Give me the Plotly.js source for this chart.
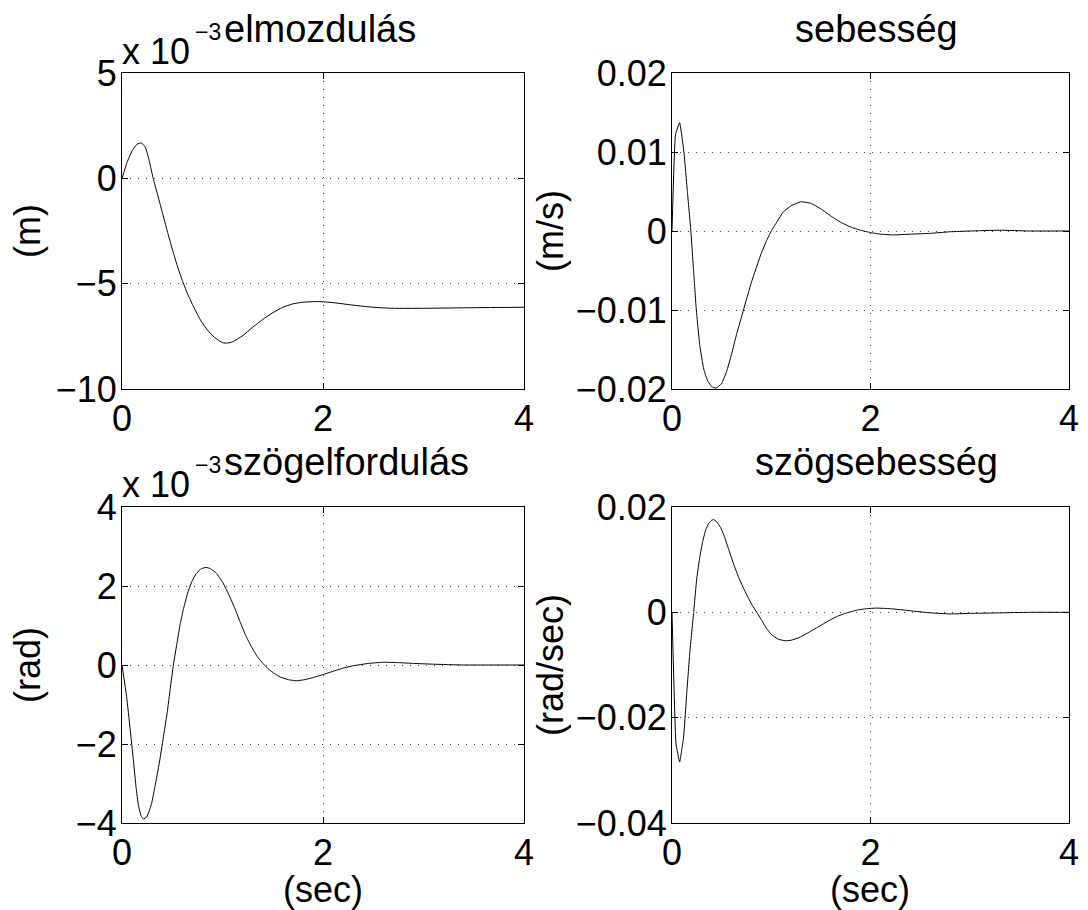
<!DOCTYPE html>
<html>
<head>
<meta charset="utf-8">
<script src="https://cdn.plot.ly/plotly-3.0.1.min.js"></script>
<style>html,body{margin:0;padding:0;background:#fff;}#chart{width:1088px;height:910px;}</style>
</head>
<body>
<div id="chart"></div>
<script>
// ---- data ----
// elmozdulás, values in units of 1e-3 m
const tElmozdulas = [0,0.05,0.1,0.15,0.19,0.23,0.27,0.31,0.35,0.4,0.45,0.5,0.55,0.6,0.65,0.7,0.78,0.85,0.92,1.0,1.05,1.1,1.2,1.3,1.4,1.5,1.6,1.7,1.8,1.95,2.1,2.3,2.5,2.7,3.0,3.5,4.0];
const elmozdulas  = [0,0.75,1.3,1.62,1.68,1.5,0.85,0.0,-0.7,-1.6,-2.5,-3.35,-4.15,-4.85,-5.45,-5.98,-6.72,-7.2,-7.55,-7.8,-7.82,-7.76,-7.47,-7.07,-6.7,-6.38,-6.12,-5.96,-5.88,-5.85,-5.9,-6.02,-6.12,-6.17,-6.17,-6.14,-6.12];

// sebesség, m/s
const tSebesseg = [0,0.035,0.077,0.12,0.155,0.19,0.22,0.245,0.28,0.32,0.36,0.40,0.445,0.5,0.55,0.6,0.65,0.72,0.8,0.9,0.95,1.0,1.06,1.12,1.2,1.3,1.4,1.5,1.6,1.7,1.8,1.9,2.0,2.1,2.23,2.4,2.6,2.8,3.0,3.3,3.6,4.0];
const sebesseg  = [0,0.0122,0.0137,0.0100,0.0050,0.0,-0.0055,-0.0100,-0.0145,-0.0175,-0.0190,-0.0197,-0.0199,-0.0193,-0.0178,-0.0156,-0.0131,-0.0100,-0.0065,-0.0028,-0.0013,0.0,0.0012,0.0024,0.0032,0.0037,0.0035,0.0028,0.0019,0.0011,0.0005,0.0001,-0.0002,-0.0004,-0.0005,-0.0004,-0.0003,-0.0001,0.0,0.0001,0.0,0.0];

// szögelfordulás, values in units of 1e-3 rad
const tSzogelfordulas = [0,0.046,0.08,0.113,0.14,0.163,0.19,0.212,0.245,0.27,0.295,0.33,0.37,0.41,0.45,0.48,0.511,0.55,0.58,0.61,0.65,0.693,0.74,0.79,0.836,0.88,0.94,1.0,1.06,1.12,1.174,1.23,1.29,1.35,1.406,1.46,1.52,1.572,1.65,1.738,1.82,1.9,2.0,2.1,2.2,2.3,2.45,2.6,2.75,2.9,3.1,3.4,4.0];
const szogelfordulas  = [0,-0.8,-1.6,-2.4,-3.1,-3.55,-3.82,-3.9,-3.85,-3.7,-3.5,-3.05,-2.5,-1.85,-1.2,-0.6,0.0,0.6,1.05,1.4,1.8,2.1,2.32,2.44,2.47,2.44,2.32,2.1,1.8,1.45,1.1,0.75,0.45,0.2,0.03,-0.11,-0.22,-0.30,-0.37,-0.40,-0.37,-0.32,-0.24,-0.16,-0.08,-0.02,0.04,0.07,0.06,0.04,0.02,0.0,0.0];

// szögsebesség, rad/sec
const tSzogsebesseg = [0,0.04,0.077,0.117,0.15,0.18,0.218,0.25,0.28,0.31,0.34,0.37,0.40,0.42,0.45,0.49,0.53,0.57,0.62,0.67,0.72,0.77,0.81,0.855,0.9,0.95,1.0,1.07,1.14,1.2,1.28,1.36,1.46,1.56,1.66,1.76,1.86,1.96,2.06,2.2,2.4,2.6,2.8,3.0,3.3,3.6,4.0];
const szogsebesseg  = [0,-0.0249,-0.0284,-0.0237,-0.0150,-0.0075,0.0,0.0065,0.0105,0.0135,0.0157,0.0169,0.0175,0.0176,0.0172,0.0161,0.0143,0.0120,0.0092,0.0067,0.0046,0.0027,0.0013,0.0,-0.0014,-0.0030,-0.0042,-0.0051,-0.0054,-0.0053,-0.0048,-0.0040,-0.0029,-0.0018,-0.0008,-0.0001,0.0004,0.0007,0.0008,0.0007,0.0003,-0.0001,-0.0003,-0.0002,-0.0001,0.0,0.0];

const panelTitles = ['elmozdulás','sebesség','szögelfordulás','szögsebesség'];
const yUnits = ['(m)','(m/s)','(rad)','(rad/sec)'];
const xUnit = '(sec)';
const exponentBase = 'x 10';
const exponentPower = '−3';
const xTicks = [0,2,4];
const yTicks1 = [-10,-5,0,5];
const yTicks2 = [-0.02,-0.01,0,0.01,0.02];
const yTicks3 = [-4,-2,0,2,4];
const yTicks4 = [-0.04,-0.02,0,0.02];

// ---- layout helpers ----
const W = 1088, H = 910;
const FONT = 'Liberation Sans, Arial, Helvetica, sans-serif';
const px = v => v / W;
const py = v => 1 - v / H;

const line = {color:'#000', width:1};
const traces = [
  {x:tElmozdulas, y:elmozdulas, xaxis:'x', yaxis:'y', mode:'lines', line:Object.assign({shape:'spline', smoothing:0.5}, line)},
  {x:tSebesseg, y:sebesseg, xaxis:'x2', yaxis:'y2', mode:'lines', line:Object.assign({shape:'spline', smoothing:0.3}, line)},
  {x:tSzogelfordulas, y:szogelfordulas, xaxis:'x3', yaxis:'y3', mode:'lines', line:Object.assign({shape:'spline', smoothing:0.3}, line)},
  {x:tSzogsebesseg, y:szogsebesseg, xaxis:'x4', yaxis:'y4', mode:'lines', line:Object.assign({shape:'spline', smoothing:0.3}, line)}
];

function common(){
  return {showline:true, mirror:'ticks', linecolor:'#000', linewidth:1, ticks:'inside', ticklen:6, tickcolor:'#000',
    showgrid:true, gridcolor:'#444', griddash:'1px,7px', gridwidth:1, zeroline:false,
    tickfont:{family:FONT, size:36, color:'#000'}, fixedrange:true};
}
function xax(domain, anchor){
  return Object.assign(common(), {domain:domain, anchor:anchor, range:[0,4], tickvals:xTicks, ticktext:xTicks.map(String), ticklabelstandoff:-2});
}
function yax(domain, anchor, range, ticks){
  return Object.assign(common(), {domain:domain, anchor:anchor, range:range, tickvals:ticks, ticklabelstandoff:-3});
}

const dxL = [px(122), px(524)], dxR = [px(672), px(1069)];
const dyT = [py(389), py(73)], dyB = [py(823), py(507)];

const tf = {family:FONT, size:36, color:'#000'};
const hf = {family:FONT, size:38, color:'#000'};
const sf = {family:FONT, size:23, color:'#000'};
function ann(text, x, y, opts){
  return Object.assign({text:text, x:x, y:y, xref:'paper', yref:'paper', showarrow:false, font:tf, xanchor:'center', yanchor:'middle'}, opts||{});
}
const annotations = [
  ann(panelTitles[0], px(222), py(29), {xanchor:'left', font:hf}),
  ann(panelTitles[1], px(876), py(29), {font:hf}),
  ann(panelTitles[2], px(222), py(462), {xanchor:'left', font:hf}),
  ann(panelTitles[3], px(876), py(462), {font:hf}),
  ann(exponentBase, px(120), py(51), {xanchor:'left'}),
  ann(exponentPower, px(193), py(32), {xanchor:'left', font:sf}),
  ann(exponentBase, px(120), py(484), {xanchor:'left'}),
  ann(exponentPower, px(193), py(465), {xanchor:'left', font:sf}),
  ann(yUnits[0], px(27), py(231), {textangle:-90}),
  ann(yUnits[1], px(550), py(231), {textangle:-90}),
  ann(yUnits[2], px(27), py(665), {textangle:-90}),
  ann(yUnits[3], px(550), py(665), {textangle:-90}),
  ann(xUnit, px(323), py(889)),
  ann(xUnit, px(870), py(889))
];

const layout = {
  width:W, height:H, margin:{l:0,r:0,t:0,b:0}, showlegend:false,
  paper_bgcolor:'#fff', plot_bgcolor:'#fff', font:{family:FONT, color:'#000'},
  xaxis: xax(dxL,'y'), yaxis: yax(dyT,'x',[-10,5],yTicks1),
  xaxis2: xax(dxR,'y2'), yaxis2: yax(dyT,'x2',[-0.02,0.02],yTicks2),
  xaxis3: xax(dxL,'y3'), yaxis3: yax(dyB,'x3',[-4,4],yTicks3),
  xaxis4: xax(dxR,'y4'), yaxis4: yax(dyB,'x4',[-0.04,0.02],yTicks4),
  annotations: annotations
};
Plotly.newPlot('chart', traces, layout, {staticPlot:true, displayModeBar:false});
</script>
</body>
</html>
